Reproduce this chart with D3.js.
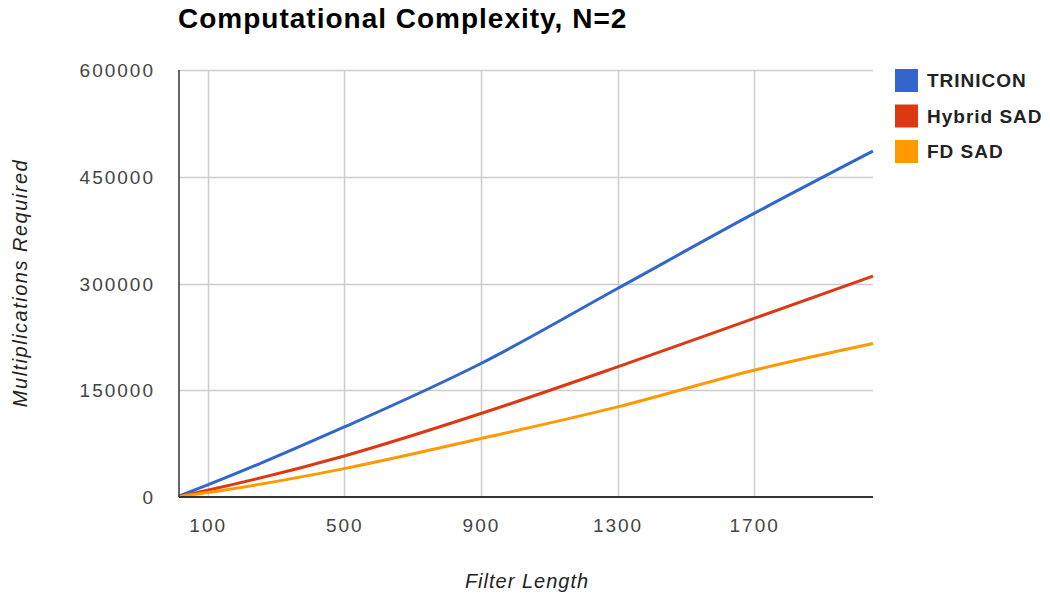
<!DOCTYPE html>
<html>
<head>
<meta charset="utf-8">
<script src="https://cdn.jsdelivr.net/npm/d3@7"></script>
<style>
  html, body { margin: 0; padding: 0; background: #fff; }
  svg { display: block; font-family: Arial, "Liberation Sans", sans-serif; }
</style>
</head>
<body>
<svg id="chart" width="1050" height="596"></svg>
<script>
// Filter lengths at which the multiplication counts were read
const filterLengths = [16, 100, 500, 900, 1300, 1700, 2048];

// Multiplications required per algorithm
const trinicon  = [1500, 17000, 98400, 187600, 293000, 398500, 486100];
const hybridSad = [800, 9500, 57700, 117300, 182800, 250900, 310300];
const fdSad     = [600, 6200, 39900, 82100, 126600, 178200, 215700];

const seriesNames  = ["TRINICON", "Hybrid SAD", "FD SAD"];
const seriesColors = ["#3366cc", "#dc3912", "#ff9900"];

const xTicks = [100, 500, 900, 1300, 1700];
const yTicks = [0, 150000, 300000, 450000, 600000];

const svg = d3.select("#chart");
const plot = { left: 179, right: 873, top: 70, bottom: 497 };

const x = d3.scaleLinear().domain([16, 2048]).range([plot.left, plot.right]);
const y = d3.scaleLinear().domain([0, 600000]).range([plot.bottom, plot.top]);

// Title
svg.append("text")
  .attr("x", 178).attr("y", 28)
  .attr("font-size", 28).attr("font-weight", "bold").attr("fill", "#000")
  .attr("letter-spacing", 1)
  .text("Computational Complexity, N=2");

// Grid lines
const grid = svg.append("g");
grid.selectAll("line.v").data(xTicks).join("line")
  .attr("x1", d => Math.round(x(d)) + 0.5).attr("x2", d => Math.round(x(d)) + 0.5)
  .attr("y1", plot.top).attr("y2", plot.bottom)
  .attr("stroke", "#cccccc").attr("stroke-width", 1.5);
grid.selectAll("line.h").data(yTicks.filter(d => d > 0)).join("line")
  .attr("x1", plot.left).attr("x2", plot.right)
  .attr("y1", d => Math.round(y(d)) + 0.5).attr("y2", d => Math.round(y(d)) + 0.5)
  .attr("stroke", "#cccccc").attr("stroke-width", 1.5);

// Axes
const xAxis = d3.axisBottom(x).tickValues(xTicks).tickSize(0).tickPadding(22).tickFormat(d3.format("d"));
const yAxis = d3.axisLeft(y).tickValues(yTicks).tickSize(0).tickPadding(24).tickFormat(d3.format("d"));

const gx = svg.append("g").attr("transform", `translate(0,${plot.bottom})`).call(xAxis);
const gy = svg.append("g").attr("transform", `translate(${plot.left},0)`).call(yAxis);
[gx, gy].forEach(g => {
  g.select(".domain").remove();
  g.selectAll("text").attr("font-size", 19).attr("fill", "#444")
    .attr("letter-spacing", 2).attr("font-family", "Arial, 'Liberation Sans', sans-serif");
});
gy.selectAll("text").attr("dy", "0.35em");

// Series lines
const line = d3.line()
  .x((d, i) => x(filterLengths[i]))
  .y(d => y(d))
  .curve(d3.curveMonotoneX);
const allSeries = [trinicon, hybridSad, fdSad];
svg.append("g").selectAll("path").data(allSeries).join("path")
  .attr("d", d => line(d))
  .attr("fill", "none")
  .attr("stroke", (d, i) => seriesColors[i])
  .attr("stroke-width", 3)
  .attr("stroke-linejoin", "round");

// Axis base lines
svg.append("line")
  .attr("x1", plot.left).attr("x2", plot.right)
  .attr("y1", plot.bottom).attr("y2", plot.bottom)
  .attr("stroke", "#333").attr("stroke-width", 2);
svg.append("line")
  .attr("x1", plot.left).attr("x2", plot.left)
  .attr("y1", plot.top).attr("y2", plot.bottom)
  .attr("stroke", "#333").attr("stroke-width", 1.5);

// Axis titles
svg.append("text")
  .attr("x", 527).attr("y", 588).attr("text-anchor", "middle")
  .attr("font-size", 20).attr("font-style", "italic").attr("fill", "#222")
  .attr("letter-spacing", 1)
  .text("Filter Length");
svg.append("text")
  .attr("transform", "translate(27,283) rotate(-90)").attr("text-anchor", "middle")
  .attr("font-size", 20).attr("font-style", "italic").attr("fill", "#222")
  .attr("letter-spacing", 1.5)
  .text("Multiplications Required");

// Legend
const legend = svg.append("g").attr("transform", "translate(895,69)");
const rows = legend.selectAll("g").data(seriesNames).join("g")
  .attr("transform", (d, i) => `translate(0,${i * 35.5})`);
rows.append("rect").attr("width", 23).attr("height", 23)
  .attr("fill", (d, i) => seriesColors[i]);
rows.append("text").attr("x", 32).attr("y", 18)
  .attr("font-size", 19).attr("font-weight", "bold").attr("fill", "#222")
  .attr("letter-spacing", 1)
  .text(d => d);
</script>
</body>
</html>
